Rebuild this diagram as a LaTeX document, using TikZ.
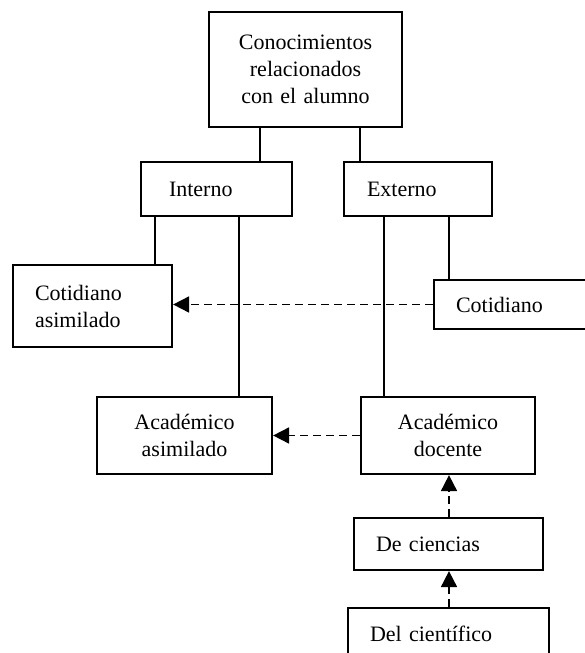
\documentclass[tikz,border=0pt]{standalone}
\usepackage{fontspec}
\setmainfont{Liberation Serif}
\usetikzlibrary{arrows.meta}
\begin{document}
\begin{tikzpicture}[x=1pt,y=-1pt,
  box/.style={draw=black,line width=2.2pt,rectangle,inner ysep=0pt,
    font=\fontsize{22}{27}\selectfont},
  cbox/.style={box,align=center},
  lbox/.style={box,align=left,inner xsep=#1},
  link/.style={line width=1.6pt},
  dlink/.style={line width=1.8pt,dash pattern=on 8pt off 5pt,
    -{Triangle[length=16pt,width=16pt]}}]
\useasboundingbox (0,0) rectangle (585,653);
\clip (0,0) rectangle (585,653);
\node[cbox,minimum width=193pt,minimum height=115pt,text width=170pt] (top) at (305.5,69.5)
  {Conocimientos\\relacionados\\con el alumno};
\node[lbox=28pt,minimum width=151pt,minimum height=54pt,text width=95pt] (interno) at (216.5,189) {Interno};
\node[lbox=23pt,minimum width=148pt,minimum height=54pt,text width=102pt] (externo) at (418,189) {Externo};
\node[lbox=22pt,minimum width=159pt,minimum height=82pt,text width=115pt] (cotasim) at (92.5,306) {Cotidiano\\asimilado};
\node[lbox=22pt,minimum width=166pt,minimum height=49pt,text width=122pt] (cot) at (517,304.5) {Cotidiano};
\node[cbox,minimum width=175pt,minimum height=77pt,text width=150pt] (acasim) at (184.5,435.5) {Académico\\asimilado};
\node[cbox,minimum width=174pt,minimum height=77pt,text width=150pt] (acdoc) at (448,435.5) {Académico\\docente};
\node[lbox=22pt,minimum width=189pt,minimum height=52pt,text width=145pt] (deci) at (448.5,544) {De ciencias};
\node[lbox=22pt,minimum width=201pt,minimum height=52pt,text width=157pt] (delci) at (448.5,634) {Del científico};
\coordinate (xa) at (260,0);
\coordinate (xb) at (360,0);
\coordinate (xc) at (155,0);
\coordinate (xd) at (239,0);
\coordinate (xe) at (384,0);
\coordinate (xf) at (449,0);
\draw[link] (top.south -| xa) -- (interno.north -| xa);
\draw[link] (top.south -| xb) -- (externo.north -| xb);
\draw[link] (interno.south -| xc) -- (cotasim.north -| xc);
\draw[link] (interno.south -| xd) -- (acasim.north -| xd);
\draw[link] (externo.south -| xe) -- (acdoc.north -| xe);
\draw[link] (externo.south -| xf) -- (cot.north -| xf);
\draw[dlink] (cot.west) -- (cot.west -| cotasim.east);
\draw[dlink] (acdoc.west) -- (acasim.east);
\draw[dlink] (deci.north -| xf) -- (acdoc.south -| xf);
\draw[dlink] (delci.north -| xf) -- (deci.south -| xf);
\end{tikzpicture}
\end{document}
